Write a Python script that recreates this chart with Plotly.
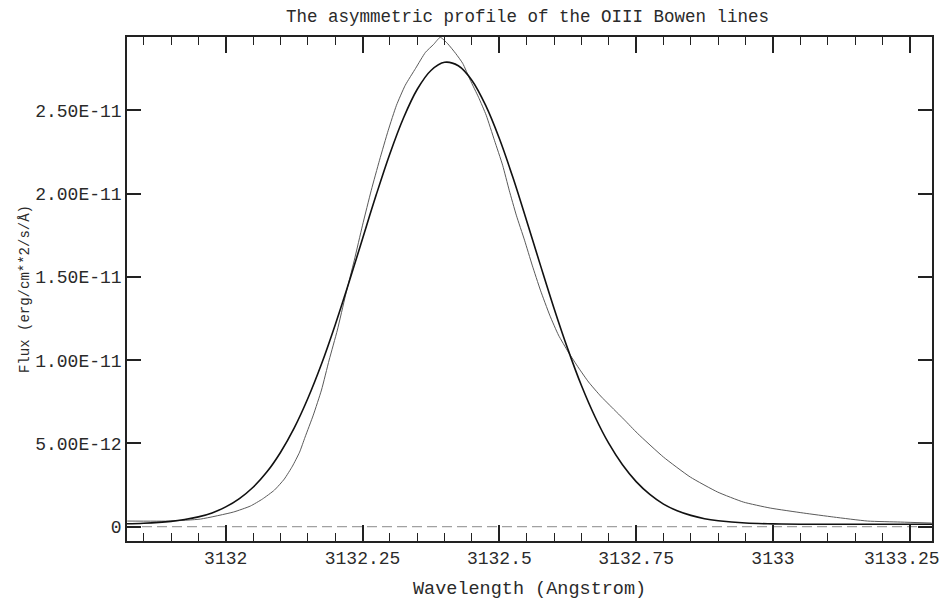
import plotly.graph_objects as go

# Observed OIII Bowen line profile (wavelength in Angstrom, flux in erg/cm^2/s/A)
obs_wave = [3131.820, 3131.899, 3131.954, 3132.014, 3132.045, 3132.067, 3132.089,
            3132.107, 3132.122, 3132.135, 3132.145, 3132.160, 3132.175, 3132.189,
            3132.204, 3132.219, 3132.235, 3132.250, 3132.266, 3132.281, 3132.297,
            3132.312, 3132.328, 3132.347, 3132.365, 3132.380, 3132.392, 3132.405,
            3132.420, 3132.433, 3132.447, 3132.462, 3132.476, 3132.491, 3132.506,
            3132.518, 3132.531, 3132.546, 3132.560, 3132.575, 3132.592, 3132.608,
            3132.626, 3132.645, 3132.663, 3132.685, 3132.707, 3132.729, 3132.752,
            3132.800, 3132.849, 3132.899, 3132.946, 3132.995, 3133.056, 3133.111,
            3133.173, 3133.233, 3133.290]
obs_flux = [0.34e-12, 0.34e-12, 0.46e-12, 0.88e-12, 1.24e-12, 1.66e-12, 2.20e-12,
            2.86e-12, 3.64e-12, 4.48e-12, 5.38e-12, 6.70e-12, 8.21e-12, 10.01e-12,
            11.81e-12, 13.91e-12, 16.01e-12, 18.11e-12, 20.21e-12, 22.01e-12, 23.81e-12,
            25.31e-12, 26.51e-12, 27.53e-12, 28.49e-12, 28.97e-12, 29.39e-12, 29.03e-12,
            28.43e-12, 27.83e-12, 26.81e-12, 25.79e-12, 24.71e-12, 23.21e-12, 21.71e-12,
            20.21e-12, 18.71e-12, 17.21e-12, 15.71e-12, 14.21e-12, 12.71e-12, 11.51e-12,
            10.49e-12, 9.53e-12, 8.69e-12, 7.85e-12, 7.12e-12, 6.40e-12, 5.62e-12,
            4.18e-12, 2.98e-12, 2.08e-12, 1.48e-12, 1.12e-12, 0.82e-12, 0.58e-12,
            0.34e-12, 0.28e-12, 0.22e-12]

# Gaussian fit to the line
fit_wave = [3131.800, 3131.850, 3131.900, 3131.925, 3131.950, 3131.975, 3132.000,
            3132.025, 3132.050, 3132.075, 3132.100, 3132.125, 3132.150, 3132.175,
            3132.200, 3132.225, 3132.250, 3132.275, 3132.300, 3132.325, 3132.350,
            3132.375, 3132.400, 3132.425, 3132.450, 3132.475, 3132.500, 3132.525,
            3132.550, 3132.575, 3132.600, 3132.625, 3132.650, 3132.675, 3132.700,
            3132.725, 3132.750, 3132.775, 3132.800, 3132.825, 3132.850, 3132.875,
            3132.900, 3132.950, 3133.000, 3133.050, 3133.300]
fit_flux = [0.17e-12, 0.21e-12, 0.32e-12, 0.43e-12, 0.59e-12, 0.83e-12, 1.19e-12,
            1.69e-12, 2.37e-12, 3.28e-12, 4.46e-12, 5.92e-12, 7.70e-12, 9.77e-12,
            12.12e-12, 14.65e-12, 17.30e-12, 19.93e-12, 22.40e-12, 24.56e-12, 26.27e-12,
            27.40e-12, 27.89e-12, 27.68e-12, 26.80e-12, 25.30e-12, 23.31e-12, 20.95e-12,
            18.36e-12, 15.71e-12, 13.11e-12, 10.68e-12, 8.48e-12, 6.59e-12, 5.00e-12,
            3.72e-12, 2.71e-12, 1.94e-12, 1.36e-12, 0.96e-12, 0.68e-12, 0.48e-12,
            0.36e-12, 0.22e-12, 0.17e-12, 0.15e-12, 0.15e-12]

# Zero level
zero_wave = [3131.8196, 3133.2906]
zero_flux = [0.0, 0.0]

x_tickvals = [3132.0, 3132.25, 3132.5, 3132.75, 3133.0, 3133.25]
x_ticktext = ["3132", "3132.25", "3132.5", "3132.75", "3133", "3133.25"]
y_tickvals = [0.0, 5e-12, 1e-11, 1.5e-11, 2e-11, 2.5e-11]
y_ticktext = ["0", "5.00E-12", "1.00E-11", "1.50E-11", "2.00E-11", "2.50E-11"]

title_text = "The asymmetric profile of the OIII Bowen lines"
x_title = "Wavelength (Angstrom)"
y_title = "Flux (erg/cm**2/s/Å)"

FONT = "Liberation Mono"
INK = "#2a2a2a"

fig = go.Figure()
fig.add_trace(go.Scatter(x=zero_wave, y=zero_flux, mode="lines",
                         line=dict(color="#8a8a8a", width=1, dash="10px,5px"),
                         hoverinfo="skip"))
fig.add_trace(go.Scatter(x=obs_wave, y=obs_flux, mode="lines",
                         line=dict(color="#5a5a5a", width=1, shape="spline", smoothing=0.5)))
fig.add_trace(go.Scatter(x=fit_wave, y=fit_flux, mode="lines",
                         line=dict(color="#111111", width=1.6, shape="spline", smoothing=1.0)))

fig.update_layout(
    width=945, height=602,
    margin=dict(l=127, r=13, t=37, b=61, autoexpand=False),
    paper_bgcolor="white", plot_bgcolor="white",
    showlegend=False,
    font=dict(family=FONT, size=18, color=INK),
)

# the last wavelength label sits against the right edge, so it is drawn
# separately, nudged left to stay inside the figure
axis_ticktext = x_ticktext[:-1] + [""]

fig.update_xaxes(
    range=[3131.8196, 3133.2906], automargin=False,
    showgrid=False, zeroline=False,
    showline=True, linecolor="#222222", linewidth=1.5, mirror="allticks",
    ticks="inside", ticklen=16, tickwidth=1.5, tickcolor="#222222",
    tickvals=x_tickvals, ticktext=axis_ticktext,
    tickfont=dict(family=FONT, size=18, color=INK),
    minor=dict(ticks="inside", ticklen=8, tickwidth=1.2, tickcolor="#222222",
               dtick=0.05, tick0=3132.0, showgrid=False),
)
fig.update_yaxes(
    range=[-8.58e-13, 2.941e-11], automargin=False,
    showgrid=False, zeroline=False,
    showline=True, linecolor="#222222", linewidth=1.5, mirror="allticks",
    ticks="inside", ticklen=14, tickwidth=1.5, tickcolor="#222222",
    tickvals=y_tickvals, ticktext=y_ticktext,
    tickfont=dict(family=FONT, size=18, color=INK),
)

fig.add_annotation(text=x_ticktext[-1], xref="x", yref="paper",
                   x=x_tickvals[-1], y=-0.0357, xshift=-8,
                   xanchor="center", yanchor="middle", showarrow=False,
                   font=dict(family=FONT, size=18, color=INK))
fig.add_annotation(text=title_text, xref="paper", yref="paper", x=0.498, y=1.0397,
                   xanchor="center", yanchor="middle", showarrow=False,
                   font=dict(family=FONT, size=17.5, color=INK))
fig.add_annotation(text=x_title, xref="paper", yref="paper", x=0.5, y=-0.0972,
                   xanchor="center", yanchor="middle", showarrow=False,
                   font=dict(family=FONT, size=18.5, color=INK))
fig.add_annotation(text=y_title, xref="paper", yref="paper", x=-0.1267, y=0.5,
                   xanchor="center", yanchor="middle", textangle=-90, showarrow=False,
                   font=dict(family=FONT, size=14, color=INK))

fig.write_html("out.html")
